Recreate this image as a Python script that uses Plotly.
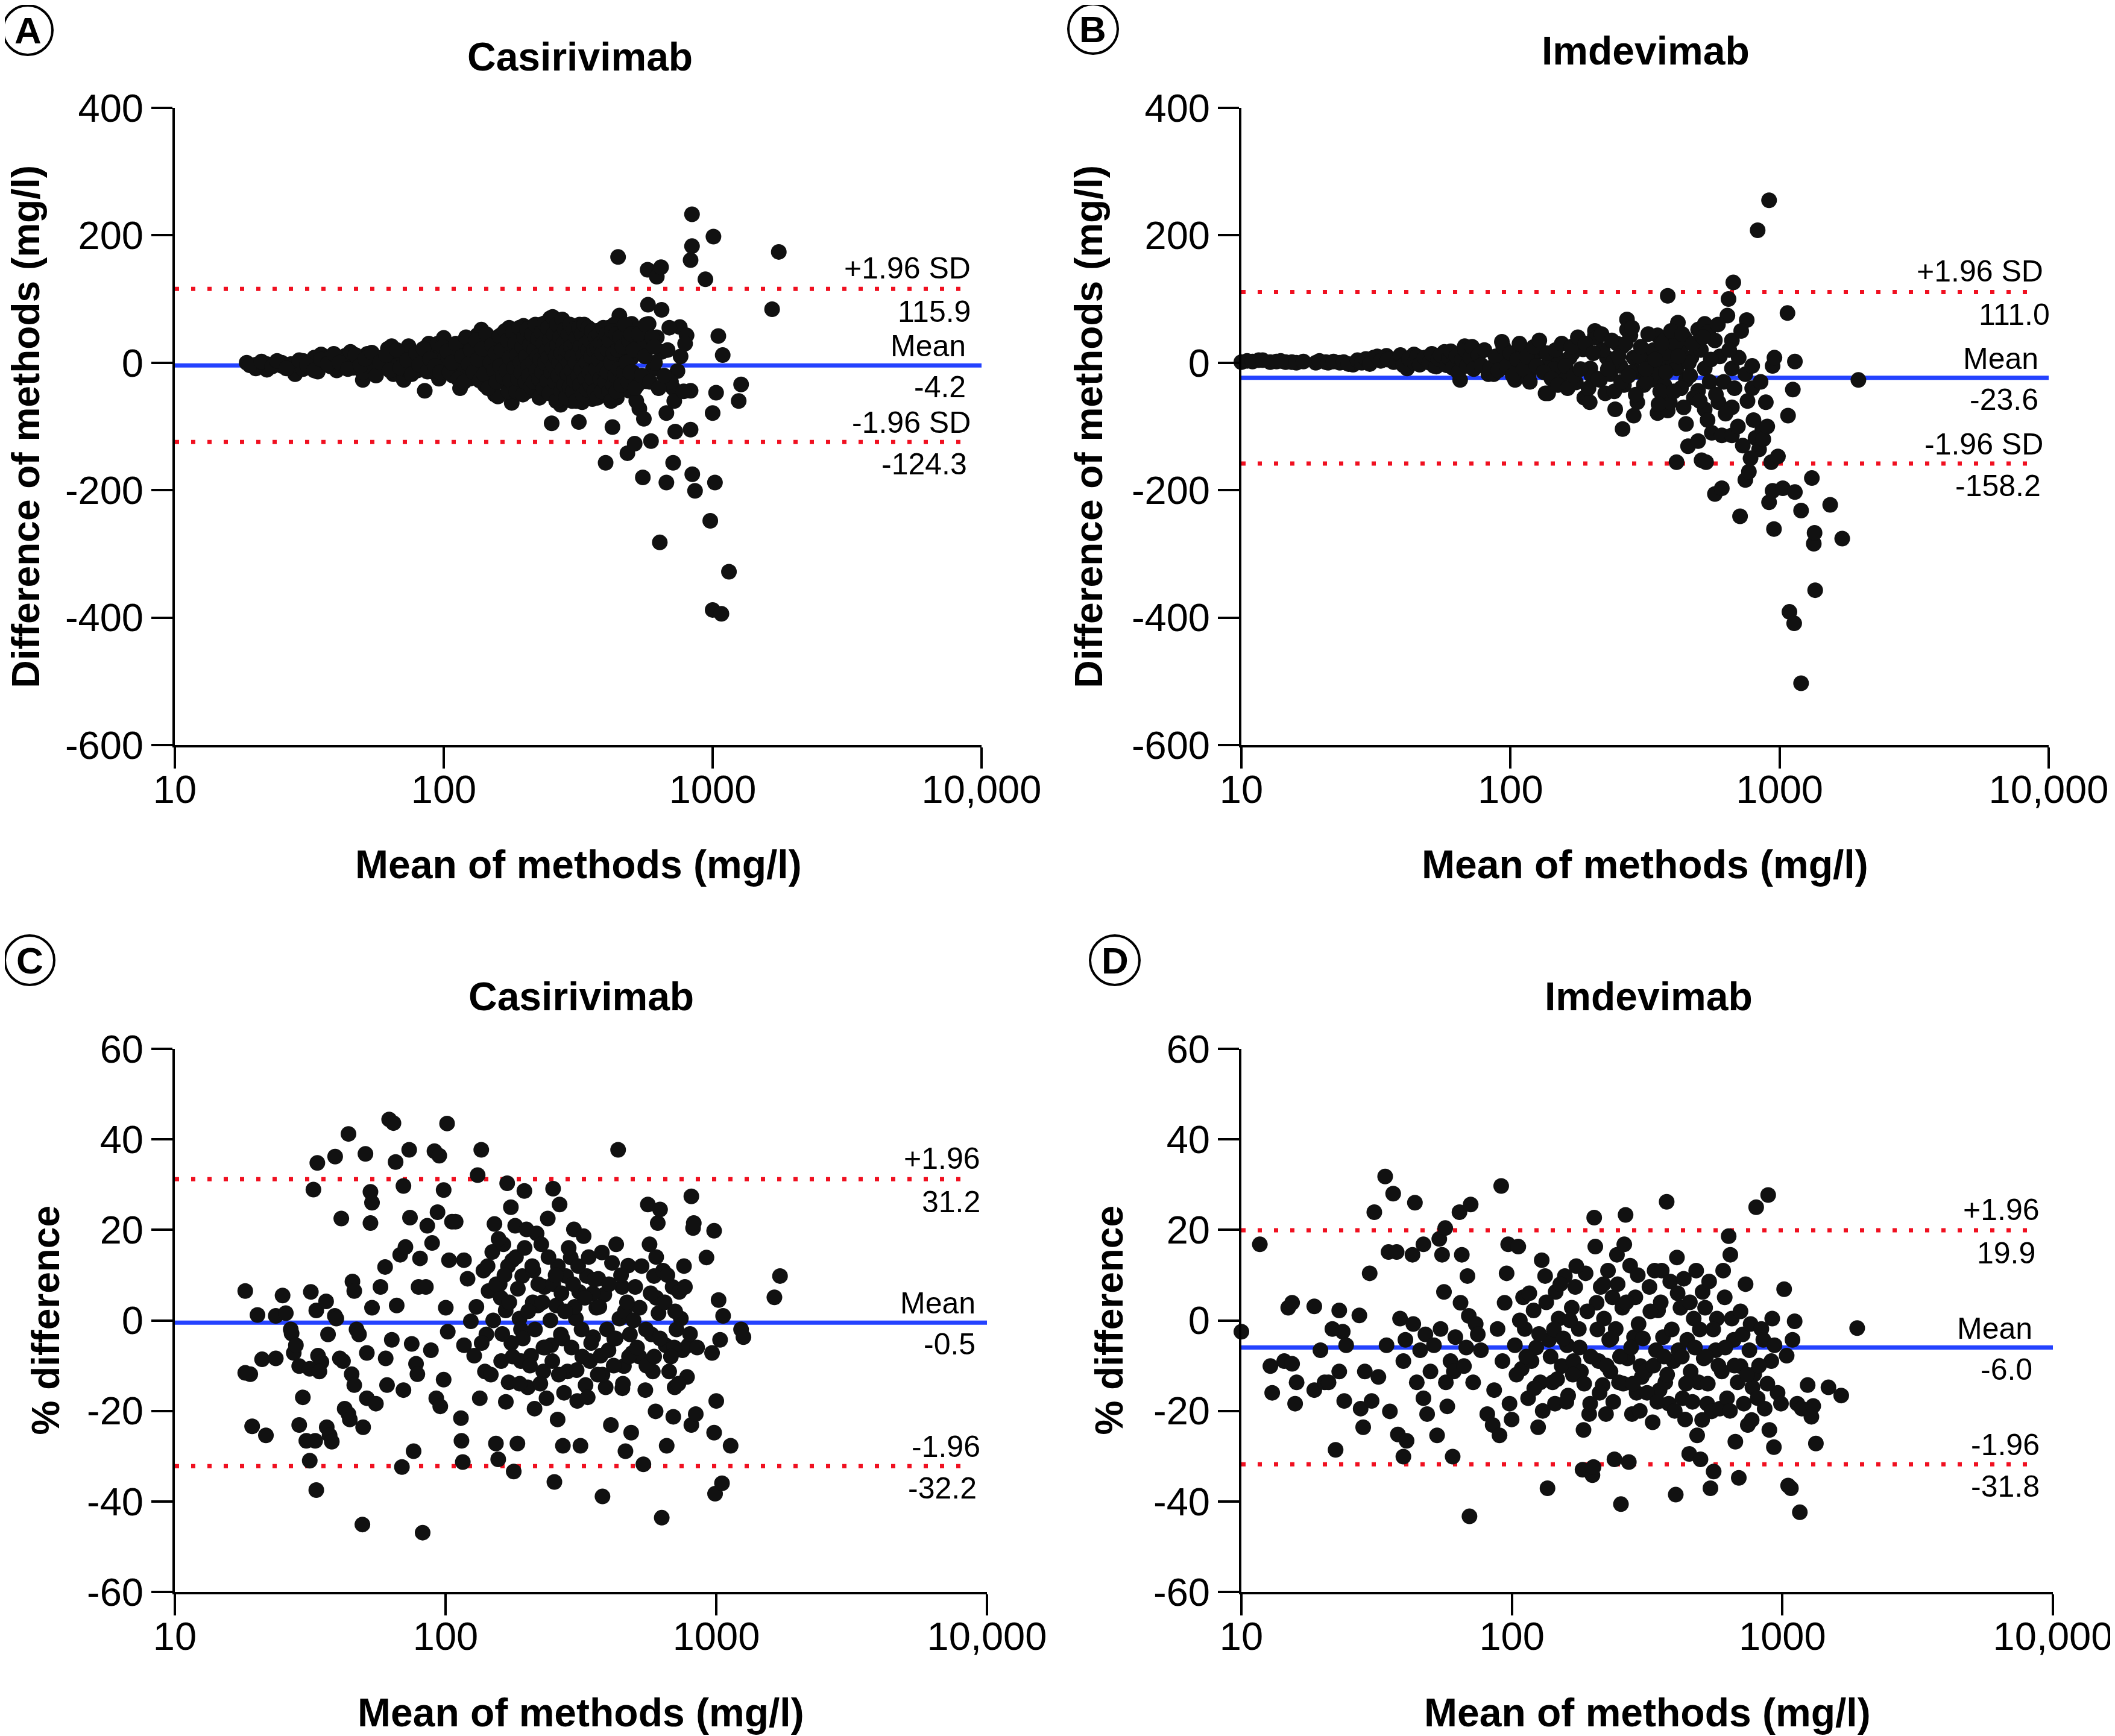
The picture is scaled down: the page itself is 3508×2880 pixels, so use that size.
import plotly.graph_objects as go

W, H = 3508, 2880          # reference canvas
OFF = 8                    # browser body margin offset
WF, HF = W - OFF, H - OFF  # figure size
FONT = "Liberation Sans, Arial, Helvetica, sans-serif"
RED = "#f01020"
BLUE = "#2442ff"
DOT = "#111111"

# ---------------- data ----------------
# Panel A: Casirivimab, difference (mg/l) vs mean (mg/l)
a_pairs = [
    (18.5, 0), (20, -3), (20, -9), (22, -11), (22, -2), (25, -5), (25, 0), (27, -2), (28, -18), (30, -10),
    (30, 3), (32, -8), (33, 8), (34, -14), (35, 13), (36, 2), (38, -6), (38, 10), (40, 5), (40, -12),
    (42, -3), (43, 11), (45, 17), (46, -8), (48, 4), (50, -27), (50, -15), (52, 14), (53, 0), (55, -10),
    (57, 8), (60, -6), (62, 22), (64, 26), (65, -18), (66, 6), (68, -2), (70, 12), (71, -27), (72, -10),
    (74, 26), (75, 18), (78, 3), (80, -12), (82, 8), (85, -44), (86, -5), (88, 30), (90, 20), (92, -15),
    (95, 30), (96, -25), (98, 10), (100, 39), (102, -8), (104, 5), (106, 22), (108, -20), (110, 15), (112, -3),
    (115, -40), (116, 28), (118, -12), (120, 8), (122, 30), (125, -25), (128, -5), (130, 18), (133, 43), (135, -10),
    (138, 52), (140, 0), (142, -35), (145, 25), (148, 10), (150, -20), (152, 38), (155, -50), (158, 5), (159, -53),
    (160, 30), (163, -15), (165, 45), (168, -30), (170, 15), (172, -5), (175, 55), (178, -40), (179, -63), (180, 25),
    (182, 0), (185, -20), (188, 40), (190, 10), (192, -35), (195, 50), (198, 58), (200, -10), (203, 20), (205, -45),
    (208, 35), (210, -25), (212, 5), (215, 45), (218, -15), (220, 30), (222, -5), (225, -44), (228, 15), (230, 60),
    (233, -30), (236, 25), (240, -10), (243, 40), (246, -20), (249, 70), (250, 5), (252, -95), (255, -35), (258, 50),
    (260, 15), (263, -50), (266, 35), (268, 65), (270, -10), (272, -66), (275, 20), (278, 45), (280, -25), (283, 0),
    (286, 55), (290, -40), (293, 30), (296, 10), (300, -60), (303, 40), (306, -20), (310, 20), (314, -45), (318, -93),
    (320, 60), (323, 5), (327, -62), (327, 58), (330, -30), (334, 35), (338, -10), (342, 45), (346, -50), (350, 15),
    (354, -25), (357, -57), (360, 30), (365, 0), (370, 50), (375, -35), (380, 20), (385, -15), (390, 40), (395, -40),
    (401, -44), (405, 10), (410, 55), (415, -25), (420, 25), (424, -101), (430, -10), (435, 35), (440, -55), (445, 166),
    (450, 74), (455, 5), (460, -30), (465, 45), (470, 15), (475, -20), (482, -142), (490, -44), (500, 61), (500, 8),
    (505, -15), (513, -127), (520, 30), (525, -35), (534, -72), (540, 20), (550, -180), (555, -88), (566, -29), (573, 146),
    (575, 91), (578, 61), (590, -123), (620, 135), (643, 150), (646, 83), (646, 17), (636, -282), (673, -79), (673, -188),
    (713, -157), (713, -40), (726, -108), (740, -13), (755, 56), (800, 43), (828, -105), (828, 161), (828, -44), (838, 233),
    (838, 183), (840, -175), (860, -201), (940, 131), (980, -248), (1000, -79), (1000, -388), (1007, 198), (1020, -188), (1030, -47),
    (1050, 42), (1078, -394), (1090, 12), (1150, -328), (1250, -60), (1276, -34), (1664, 84), (1762, 174), (400, -157),
    (550, 30), (600, -10), (620, 40), (680, 20), (700, -30), (760, 10), (520, -60), (480, 25), (430, 60), (610, 0),
    (19, -4), (21, 2), (23, -6), (24, 3), (26, -9), (29, 4), (31, -3), (33, -12), (35, 5), (37, -2),
    (39, 14), (41, 0), (44, -10), (47, 12), (49, -4), (51, 6), (54, 16), (56, -20), (58, 1), (61, 12),
    (63, -12), (67, 20), (69, -8), (73, 4), (76, -18), (79, 15), (81, -3), (84, 22), (87, -14), (89, 6),
    (93, -5), (97, -15), (99, 25), (103, 18), (105, -15), (107, 0), (111, 30), (113, -25), (117, 10), (119, -30),
    (121, 40), (124, -2), (126, 20), (129, -15), (132, 35), (134, 5), (136, -28), (139, 22), (141, -18), (144, 45),
    (146, -40), (149, 0), (151, 28), (154, -12), (156, 15), (157, -30), (161, 42), (162, -5), (164, 20), (166, -22),
    (169, 50), (171, -12), (173, 35), (174, -45), (176, 8), (177, -28), (181, 48), (183, -8), (184, 30), (186, -45),
    (187, 12), (189, -25), (191, 55), (193, 0), (194, -15), (196, 25), (197, -50), (199, 40), (201, -30), (202, 10),
    (204, 52), (206, -5), (207, -20), (209, 28), (211, -38), (213, 45), (214, 0), (216, -30), (217, 20), (219, 60),
    (221, -12), (223, 10), (224, 38), (226, -25), (227, -55), (229, 5), (231, 48), (232, -15), (234, 30), (235, -40),
    (237, 62), (238, 0), (241, 18), (242, -28), (244, 55), (245, 8), (247, -48), (248, 35), (251, -15), (253, 22),
    (254, 72), (256, -5), (257, 45), (259, -30), (261, 10), (262, -60), (264, 60), (265, 28), (267, -20), (269, 0),
    (271, 40), (273, -45), (274, 15), (276, 68), (277, -10), (279, 30), (281, -35), (282, 52), (284, 8), (285, -55),
    (287, 20), (289, -18), (291, 45), (292, 0), (294, -38), (295, 60), (297, 25), (299, -12), (301, 10), (302, -45),
    (304, 52), (305, -28), (307, 30), (309, 0), (311, -60), (312, 40), (315, 15), (316, -20), (319, 55), (321, -35),
    (322, 25), (325, -10), (326, 45), (329, -50), (331, 12), (333, 60), (336, -25), (337, 30), (340, 0), (341, -42),
    (344, 20), (345, 55), (348, -15), (349, 35), (352, -35), (353, 10), (356, 50), (358, -25), (362, 20), (363, -45),
    (367, 40), (368, -10), (372, 25), (373, -55), (377, 5), (378, 45), (382, -25), (383, 30), (387, -45), (388, 15),
    (392, 55), (393, -10), (397, 30), (398, -30), (403, 45), (407, -15), (408, 20), (412, -45), (413, 35), (418, 0),
    (419, -60), (422, 50), (426, -35), (428, 15), (433, -20), (437, 45), (438, -45), (443, 20), (447, -10), (452, 40),
    (457, -35), (462, 25), (467, -15), (472, 60), (478, 0), (485, -30), (488, 35), (495, -15), (498, 45), (508, 20),
    (515, -40), (530, 45), (545, -20), (560, 10), (565, 60), (585, -30), (595, 40), (605, 25), (630, -40), (660, -20),
    (690, 55), (720, -60), (780, -45), (790, 30),
]

# Panel B: Imdevimab, difference (mg/l) vs mean (mg/l)
b_pairs = [
    (10, 1), (11.6, 4), (12.8, 1), (14.6, 1), (15.4, 1), (18.9, 0), (20.6, 1), (23.2, 0), (26, -3), (31, 8),
    (34.6, 11), (36.8, 1), (41.3, -9), (43.8, 13), (47.7, 4), (52, -5), (56.8, 17), (62, 4), (65, -27), (67.6, 26),
    (70.5, 17), (74.5, 0), (82.8, -18), (86.6, -18), (92.9, 33), (95.6, 8), (98.4, -9), (104, -27), (110, 21), (117, -18),
    (131, 17), (135, -48), (138, -48), (139, 0), (152, 4), (157, -18), (166, 8), (175, -31), (186, 21), (188, -55),
    (197, -62), (198, -9), (206, 50), (206, 43), (209, 39), (215, -27), (225, -48), (228, 8), (235, -18), (245, -73),
    (249, 30), (256, -5), (261, -104), (264, -35), (271, 68), (271, 52), (279, 43), (287, 8), (287, -83), (296, -14),
    (296, -62), (313, 17), (313, -35), (332, 0), (332, -27), (352, -18), (352, 43), (352, -79), (361, 26), (373, -5),
    (373, 35), (373, -35), (384, 105), (384, -75), (391, -62), (400, 4), (414, -9), (414, -156), (419, 63), (428, 21),
    (444, 39), (449, -27), (449, -96), (457, -131), (470, 8), (498, 52), (498, -44), (498, -123), (513, -153), (527, 61),
    (527, -9), (527, -73), (533, -156), (543, 48), (560, -110), (575, 35), (575, -206), (593, -62), (610, -114), (610, -197),
    (640, 74), (646, 100), (665, 35), (665, -9), (665, -70), (665, -114), (673, 126), (705, 8), (713, -241), (746, -18),
    (746, -184), (755, 67), (769, -171), (791, -40), (791, -5), (814, -118), (829, 208), (839, -136), (863, -105), (889, -62),
    (914, 255), (914, -219), (931, -156), (942, -5), (942, -201), (953, -261), (957, 8), (986, -147), (1028, -197), (1070, 78),
    (1075, -83), (1088, -391), (1120, -42), (1133, -409), (1140, 2), (1140, -203), (1202, -232), (1202, -503), (1318, -181), (1340, -284),
    (1349, -267), (1356, -357), (1542, -223), (1709, -276), (1963, -27),
    (120, 5), (145, -10), (170, 15), (200, -20), (220, 20), (240, 0), (260, 25), (280, -15), (300, 10), (320, -30),
    (340, 20), (360, -45), (380, 15), (410, 30), (430, -40), (460, 0), (480, -55), (510, 20), (550, -30), (600, 10),
    (10.5, 3), (11, 2), (12, 4), (13.5, 2), (14, 3), (16, 0), (17, 2), (19.5, 3), (21, 0), (22, 2),
    (24, 1), (25, -2), (27, 4), (28, 0), (29, 6), (30, -2), (32, 10), (33, 3), (35, 5), (38, 2),
    (39, 12), (40, -4), (42, 6), (44, 0), (45, 10), (46, -3), (48, 8), (50, 0), (51, 14), (53, -6),
    (54, 6), (55, 12), (58, -4), (59, 8), (60, 18), (61, -8), (63, 10), (64, -15), (66, 5), (68, 20),
    (69, -5), (71, 8), (72, 25), (73, -10), (76, 12), (78, -4), (80, 20), (84, -8), (88, 10), (90, -12),
    (94, 25), (97, -5), (100, 15), (102, -20), (106, 5), (108, 30), (112, -10), (115, 10), (118, -30), (122, 25),
    (125, -5), (128, 35), (133, -15), (137, 15), (142, -25), (147, 20), (150, -35), (155, 30), (160, -5), (163, -40),
    (168, 25), (172, -20), (178, 40), (182, -10), (190, 30), (195, -40), (203, 15), (212, -25), (218, 45), (230, -10),
    (238, 35), (243, -45), (252, 10), (258, -30), (268, 30), (275, -20), (283, 55), (292, -50), (305, 25), (318, -10),
    (325, 45), (345, 5), (355, -65), (365, 30), (378, -15), (395, 50), (405, -45), (420, 10), (435, 45), (440, -70),
    (465, -20), (475, 30), (505, -60), (520, 40), (540, -90), (555, 5), (580, -50), (590, 60), (620, -30), (630, -80),
    (650, 20), (680, -40), (700, -100), (720, 50), (730, -130), (760, -60), (780, -150), (800, -90), (850, -30), (870, -120),
    (900, -100),
]

# Panel C: Casirivimab, % difference vs mean (mg/l)
c_pairs = [
    (18.2, 6.5), (19, -11.9), (18.2, -11.6), (20.2, 1.2), (19.3, -23.4), (21, -8.6), (21.7, -25.4), (23.6, 1.0), (25, 5.5), (25.7, 1.6),
    (26.8, -2), (27, -2.9), (23.6, -8.4), (27.5, -7.2), (28.8, -10.1), (28.8, -23.1), (29.7, -17), (31.5, -31), (31.8, 6.3), (32.5, 28.9),
    (33.3, 2.2), (33.6, 34.8), (33.3, -37.5), (33.8, -7.8), (34.8, -9.2), (31.5, -10.7), (34.2, -11.3), (36.2, 4.2), (36.4, -23.6), (36.8, -3.1),
    (37.3, -25.4), (38, -26.8), (33, -26.6), (30.6, -26.6), (28, -5.5), (39.1, 36.2), (39, 1), (39.5, 0.4), (41.2, 22.5), (40.7, -8.4),
    (41.8, -9), (42.4, -19.5), (43.8, 41.2), (43.8, -20.7), (44.3, -21.9), (45.3, 8.6), (46, 6.5), (45, -11.9), (46, -14.3), (46.9, -2),
    (47.9, -3.1), (49.6, -23.6), (49.3, -45.1), (50.6, 36.8), (51.2, -7.2), (51.2, -17.2), (52.8, 28.4), (52.8, 21.5), (53.5, 26), (53.5, 2.8),
    (55.3, -18.4), (57.5, 7.4), (59.8, 11.8), (60.1, -8.4), (60.8, -14.3), (61.9, 44.4), (63.3, -4.3), (64.2, 43.6), (65.4, 35), (66, 3.3),
    (68, 14.5), (69, -32.4), (69.9, 29.7), (69.9, -15.4), (71.1, 16.2), (73.4, 37.7), (73.9, 22.7), (75, -5.2), (76.2, -28.9), (77.8, -9.6),
    (78.7, -11.9), (79.5, 7.4), (80.5, 13.7), (82.3, -46.9), (84.6, 7.4), (85.6, 20.9), (88.3, -6.6), (89.2, 17.1), (91, 37.4), (92.4, -17.2),
    (93.4, 23.9), (94.8, 36.4), (95.6, -19), (98.4, 28.8), (98.4, -13.1), (100.2, 2.8), (101.3, 43.5), (101.9, -2.5), (103, 13.3), (105.6, 21.8),
    (109, 21.8), (114, -21.6), (114.5, -26.6), (115.8, -31.3), (117, 13.3), (117, -5.5), (120.6, 9.2), (124, -0.2), (127.6, -7.8), (131.4, 32.1),
    (133.8, -17.2), (135.5, 37.7), (138, 11), (139.8, -11.3), (141.5, -3.1), (144.2, 6.5), (148.8, 15.1), (151.6, 21.3), (153.5, -27.2), (156.5, -30.7),
    (158.5, 8), (160.5, -9), (163.6, 16.8), (166.8, 2.2), (168.9, 30.3), (171, -13.7), (174.3, 25), (176.5, 13.3), (178.6, -33.4), (180.8, 20.9),
    (184.3, -27.2), (187.6, 0.4), (189.8, -9), (192, 9.8), (195.5, 28.6), (199, 20.1), (201.3, -14.8), (207, -7.8), (211, 11), (213.2, -19.5),
    (217, 19.2), (219.4, 3.3), (225.8, 16.8), (229.6, -11.3), (232, 7.4), (236, -17.2), (238.6, 22.5), (245.5, -5.5), (249.6, 29.1), (252.4, -35.7),
    (256.5, 3.3), (259.4, -21.9), (263.8, 25.6), (266.7, -3.1), (271.3, -27.7), (278.8, 9.8), (282, -11.3), (290, 13.9), (298, 20.1), (303, 0.4),
    (306.5, -17.8), (311.6, 6.3), (315, -27.7), (323.7, 18.6), (329, -14.3), (332.6, 9.8), (341.6, -9), (351, -3.7), (360.7, 2.8), (366.5, 9.2),
    (374, -7.8), (380, -38.9), (386, 5.7), (390.5, -14.8), (400, -6.6), (408, -23.1), (412, 12.7), (427, 16.8), (434, 37.7), (439, 0.4),
    (449, 7.4), (456, -10.1), (462, -28.9), (473, 12.1), (480, -3.1), (485, -24.8), (490, -7.2), (502, 7.4), (521, 2.8), (538, -31.8),
    (547, -15.4), (559, 25.6), (567, 16.8), (576, -3.1), (583, -11.3), (589, 9.8), (597, -20.1), (608, 21.5), (612, 1.6), (620, 24.5),
    (629, -43.6), (636, 11), (650, -5.5), (656, -27.7), (670, -11.3), (690, 7.4), (694, -21.3), (702, -14.8), (713, -2), (730, 6.3),
    (740, 0.4), (750, -6.6), (766, 7.4), (780, -12.5), (790, -5.5), (809, 27.4), (809, -23.1), (821, 20.4), (826, 21.5), (840, -20.7),
    (920, 13.9), (965, -7.2), (982, 19.8), (982, -24.8), (990, -38.3), (1000, -17.8), (1020, 4.5), (1033, -4.3), (1050, -36), (1060, 1),
    (1130, -27.7), (1235, -2), (1260, -3.7), (1640, 5.1), (1720, 9.8),
    (160, 5), (175, -5), (190, -2), (210, 4), (230, -6), (250, 8), (270, -4), (300, 3), (320, -8), (350, 6),
    (420, -4), (460, 2), (520, -8), (600, 5), (700, -6), (170, 12), (260, 12), (380, -12), (450, -15), (550, -2),
    (130, 3), (136, -5), (143, 12), (147, -12), (150, 0), (154, 8), (157, 18), (162, -3), (165, 10), (167, -18),
    (172, 4), (177, -8), (182, 14), (185, 7), (188, -14), (193, -4), (196, 16), (202, 2), (205, -10), (209, 12),
    (214, -2), (220, 8), (224, -14), (228, 4), (233, -6), (240, 14), (244, 0), (248, -9), (255, 10), (262, -12),
    (268, 6), (274, -16), (276, 2), (285, 16), (292, -6), (296, 8), (305, -11), (309, 12), (318, -2), (327, 5),
    (335, -17), (338, 14), (345, -5), (355, 9), (365, -12), (370, 3), (378, 15), (395, -2), (402, 8), (418, -10),
    (425, -4), (445, 10), (452, -14), (468, 4), (476, -8), (495, 0), (510, -6), (530, 12), (552, -10), (572, 6),
    (590, -8), (600, 14), (620, -4), (645, 4), (660, 10), (680, -8), (705, 2), (725, -14), (760, 12), (800, -3),
    (850, -6),
]

# Panel D: Imdevimab, % difference vs mean (mg/l)
d_pairs = [
    (10, -2.5), (11.7, 16.8), (12.8, -10.1), (13, -16), (14.9, 2.8), (15.4, 3.9), (14.4, -9), (15.4, -9.6), (16, -13.7), (15.8, -18.4),
    (18.6, 3.1), (18.6, -15.4), (19.6, -6.6), (20.3, -13.7), (21, -13.7), (21.7, -1.9), (22.3, -28.6), (23, 2.2), (23, -11.3), (23.7, -2.5),
    (24, -17.8), (24.4, -5.5), (27.3, 1.1), (27.6, -19.5), (28.2, -23.6), (28.6, -11.3), (29.8, 10.4), (30.3, -17.8), (31, 23.9), (32.1, -12.5),
    (34, 31.8), (34.4, -5.5), (35, 15.1), (35.4, -20.1), (36.4, 28), (37.5, 15.1), (37.9, -25.2), (38.6, 0.4), (39.7, -9), (39.7, -30.1),
    (40.4, -4.3), (40.8, -26.6), (42.9, 14.5), (43.2, -0.8), (43.8, 26), (44.5, -13.7), (45.8, -6.6), (47.1, 16.8), (47.1, -17.2), (47.9, -3.1),
    (48.6, -20.7), (50, -11.3), (51.5, -5.5), (52.9, -25.4), (53.9, 18), (54.5, -1.9), (55.2, 14.5), (56.1, 6.3), (56.7, 20.4), (57, -13.7),
    (57.7, -19), (59.3, -9), (60.4, -30.1), (61, -11.3), (61.8, -3.7), (64, 23.9), (64.6, 3.9), (65.3, 14.5), (66.5, -10.1), (67.8, -6),
    (68.5, 9.8), (69.3, 1), (70.4, 25.6), (69.7, -43.3), (71.9, -13.7), (73.5, -0.8), (74.8, -3.1), (76.8, -6.6), (81.1, -20.7), (84.9, -23.1),
    (86, -15.4), (88.5, -1.9), (90, -25.4), (91.3, 29.7), (92.3, -9), (94, 3.9), (95.6, 10.4), (96.9, 16.8), (98, -18.4), (99.8, -21.9),
    (102.6, -5.5), (105.6, 16.3), (108.7, -10.7), (110, 5.1), (111.6, -1.9), (114.8, -17.2), (118.2, -9), (120.3, 2.2), (123, -6), (125, -23.6),
    (127.4, -13.7), (128.9, 13.3), (132.7, 9.8), (135.4, -37.1), (137.1, -4.3), (141.4, -13.7), (144.3, -18.4), (145.2, 6.3), (148.9, 0.4), (152.8, -10.1),
    (157, 9.8), (160, -5.5), (161.4, -16.6), (166.5, 2.8), (169, -9), (171.5, 7.4), (176.8, -1.9), (180, -11.3), (182.5, -33), (184, -24.2),
    (187.3, 10.4), (193.1, -20.7), (194.7, -18.4), (198.5, -34.2), (200.3, -32.4), (201.5, 22.7), (203.4, 16.3), (205.7, 3.9), (209.4, -9), (213, 7.4),
    (216.5, -14.3), (219, 0.4), (222.8, -20.7), (226.6, 11), (229, -4.3), (231.5, -11.3), (235.5, 5.1), (239.4, -30.7), (242, -1.9), (244.6, 14.5),
    (248.8, -13.7), (253, -40.6), (256, 2.8), (260.3, 16.8), (263.2, 23.3), (267.6, -8.4), (270.6, -31.3), (273.6, 12.1), (278, -20.7), (282.8, -3.7),
    (286, 5.1), (289, -16), (294, -0.8), (299, -10.1), (302, -12.5), (311, -11.3), (322.5, 7.4), (331.4, -22.5), (337, 11), (341, -6.6),
    (347, 2.2), (351.5, -15.4), (358, 11), (362, -3.7), (369, -13.7), (373.4, 26.2), (380, -18.4), (385, 8.6), (396, -9), (403.4, -38.5),
    (407.5, 13.9), (413, -6.6), (420, 2.8), (427.5, -17.2), (432, 9.2), (437, -21.9), (445, -4.3), (452.5, -29.5), (458, -11.3), (470, 0.4),
    (480, 11), (484, -25.4), (490, -13.7), (498, -30.7), (507, 6.3), (512, -8.4), (518, 2.8), (527, -18.4), (536, 8.6), (542, -37.1),
    (548, -20.1), (557, -33.4), (567, -6.6), (573, 0.4), (587, -19.5), (597, -11.3), (604, 11), (612, 5.1), (624, -17.2), (633, 18.6),
    (642, 14.5), (650, 0.4), (661, -4.3), (670, -26.8), (683, -13.7), (690, -34.8), (700, -10.1), (713, -3.1), (720, -18.4), (731, 8),
    (745, -23.1), (755, -6.6), (763, -0.8), (775, -14.8), (787, -11.9), (800, 25), (810, -17.2), (836, -1.9), (850, -4.3), (860, -19.5),
    (886, 27.7), (895, -24.2), (910, -9), (917, 0.4), (930, -28), (935, -5.5), (960, -16), (988, -18.4), (1015, 6.9), (1037, -7.8),
    (1050, -36.5), (1075, -37.1), (1090, -4.3), (1110, -0.2), (1135, -18.4), (1160, -42.4), (1180, -19.5), (1240, -14.3), (1280, -21.3), (1300, -18.9),
    (1330, -27.2), (1480, -14.8), (1650, -16.6), (1890, -1.7),
    (104, -12), (107, 0), (113, -8), (116, 6), (121, -15), (126, -3), (130, -20), (134, 4), (139, -8), (143, -2),
    (147, -13), (151, 8), (155, -4), (159, -18), (164, 0), (168, -12), (173, 12), (178, -6), (185, -14), (190, 2),
    (196, -8), (207, -2), (211, -16), (218, 8), (224, -10), (233, -4), (237, -18), (246, 8), (251, -8), (258, -14),
    (265, 4), (276, -6), (280, -14), (292, 10), (297, -20), (305, -4), (316, -16), (325, 2), (334, -10), (345, -18),
    (355, 4), (365, -8), (375, -12), (390, -2), (400, -20), (410, 6), (425, -8), (440, -14), (455, 4), (465, -18),
    (475, -6), (495, -2), (505, -22), (522, -8), (530, -14), (555, -2), (580, -10), (615, -6), (640, -20), (665, -10),
    (700, 2), (740, -12), (770, -22), (820, -10), (880, -14),
]

# Limits of agreement: (+1.96 SD, mean, -1.96 SD)
a_limits = [115.9, -4.2, -124.3]
b_limits = [111.0, -23.6, -158.2]
c_limits = [31.2, -0.5, -32.2]
d_limits = [19.9, -6.0, -31.8]

a_labels = ["+1.96 SD", "115.9", "Mean", "-4.2", "-1.96 SD", "-124.3"]
b_labels = ["+1.96 SD", "111.0", "Mean", "-23.6", "-1.96 SD", "-158.2"]
c_labels = ["+1.96", "31.2", "Mean", "-0.5", "-1.96", "-32.2"]
d_labels = ["+1.96", "19.9", "Mean", "-6.0", "-1.96", "-31.8"]

x_ticks = [10, 100, 1000, 10000]
x_ticktext = ["10", "100", "1000", "10,000"]
y_ticks_abs = [-600, -400, -200, 0, 200, 400]
y_ticks_pct = [-60, -40, -20, 0, 20, 40, 60]

titles = ["Casirivimab", "Imdevimab", "Casirivimab", "Imdevimab"]
panel_letters = ["A", "B", "C", "D"]
y_titles = ["Difference of methods (mg/l)", "Difference of methods (mg/l)", "% difference", "% difference"]
x_title = "Mean of methods (mg/l)"

# ---------------- layout geometry (pixels on the reference canvas) ----------------
panels = [
    dict(pairs=a_pairs, lim=a_limits, lab=a_labels, xd=(290, 1628), yd=(179, 1236), yr=[-600, 400], yt=y_ticks_abs,
         title_xy=(962, 94), circ=(46, 50), ytitle_x=43, xtitle_y=1434, inside=[16, 16, 24, 24, 16, 22], dotend=8750),
    dict(pairs=b_pairs, lim=b_limits, lab=b_labels, xd=(2059, 3398), yd=(179, 1236), yr=[-600, 400], yt=y_ticks_abs,
         title_xy=(2729, 84), circ=(1813, 48), ytitle_x=1806, xtitle_y=1434, inside=[7, -4, 15, 15, 7, 11], dotend=8750),
    dict(pairs=c_pairs, lim=c_limits, lab=c_labels, xd=(290, 1637), yd=(1740, 2641), yr=[-60, 60], yt=y_ticks_pct,
         title_xy=(964, 1653), circ=(49, 1593), ytitle_x=75, xtitle_y=2841, inside=[9, 9, 17, 17, 9, 15], dotend=8750),
    dict(pairs=d_pairs, lim=d_limits, lab=d_labels, xd=(2059, 3405), yd=(1740, 2641), yr=[-60, 60], yt=y_ticks_pct,
         title_xy=(2734, 1653), circ=(1849, 1593), ytitle_x=1839, xtitle_y=2841, inside=[20, 27, 32, 32, 20, 20], dotend=8750),
]


def px(x):
    return (x - OFF) / WF


def py(y):
    return 1 - (y - OFF) / HF


fig = go.Figure()
annotations = []
shapes = []

for i, p in enumerate(panels):
    n = "" if i == 0 else str(i + 1)
    xref, yref = "x" + n, "y" + n
    xs = [q[0] for q in p["pairs"]]
    ys = [q[1] for q in p["pairs"]]
    up, mean, lo = p["lim"]
    # reference lines
    for val in (up, lo):
        fig.add_trace(go.Scatter(x=[10, p["dotend"]], y=[val, val], mode="lines", xaxis=xref, yaxis=yref,
                                 line=dict(color=RED, width=7, dash="7px,20px"), showlegend=False, hoverinfo="skip"))
    fig.add_trace(go.Scatter(x=[10, 10000], y=[mean, mean], mode="lines", xaxis=xref, yaxis=yref,
                             line=dict(color=BLUE, width=7), showlegend=False, hoverinfo="skip"))
    fig.add_trace(go.Scatter(x=xs, y=ys, mode="markers", xaxis=xref, yaxis=yref, cliponaxis=False,
                             marker=dict(size=26, color=DOT, line=dict(width=0)), showlegend=False))

    common = dict(showline=True, linecolor="black", linewidth=4, ticks="outside", ticklen=35, tickwidth=4,
                  tickcolor="black", showgrid=False, zeroline=False, automargin=False,
                  tickfont=dict(family=FONT, size=65, color="black"))
    fig.update_layout(**{
        "xaxis" + n: dict(common, type="log", range=[1, 4], tickvals=x_ticks, ticktext=x_ticktext,
                          domain=[px(p["xd"][0]), px(p["xd"][1])], anchor=yref, ticklabelstandoff=-21),
        "yaxis" + n: dict(common, range=p["yr"], tickvals=p["yt"], ticktext=[str(v) for v in p["yt"]],
                          domain=[py(p["yd"][1]), py(p["yd"][0])], anchor=xref, ticklabelstandoff=0),
    })

    # limit labels
    vals = [up, up, mean, mean, lo, lo]
    shifts = [34, -38, 32, -36, 32, -37]
    for k in range(6):
        annotations.append(dict(xref=xref + " domain", yref=yref, x=1, y=vals[k], text=p["lab"][k],
                                xanchor="right", yanchor="middle", xshift=-p["inside"][k], yshift=shifts[k],
                                showarrow=False, font=dict(family=FONT, size=50, color="black")))
    # panel title
    annotations.append(dict(xref="paper", yref="paper", x=px(p["title_xy"][0]), y=py(p["title_xy"][1]),
                            text="<b>" + titles[i] + "</b>", showarrow=False, xanchor="center", yanchor="middle",
                            font=dict(family=FONT, size=66, color="black")))
    # axis titles
    annotations.append(dict(xref="paper", yref="paper", x=px(p["ytitle_x"]), y=py((p["yd"][0] + p["yd"][1]) / 2),
                            text="<b>" + y_titles[i] + "</b>", textangle=-90, showarrow=False,
                            xanchor="center", yanchor="middle", font=dict(family=FONT, size=64, color="black")))
    annotations.append(dict(xref="paper", yref="paper", x=px((p["xd"][0] + p["xd"][1]) / 2), y=py(p["xtitle_y"]),
                            text="<b>" + x_title + "</b>", showarrow=False,
                            xanchor="center", yanchor="middle", font=dict(family=FONT, size=66, color="black")))
    # circled panel letter
    cx, cy = p["circ"]
    r = 41
    shapes.append(dict(type="circle", xref="paper", yref="paper", x0=px(cx - r), x1=px(cx + r),
                       y0=py(cy + r), y1=py(cy - r), line=dict(color="black", width=4)))
    annotations.append(dict(xref="paper", yref="paper", x=px(cx), y=py(cy), text="<b>" + panel_letters[i] + "</b>",
                            showarrow=False, xanchor="center", yanchor="middle",
                            font=dict(family=FONT, size=62, color="black")))

fig.update_layout(width=WF, height=HF, margin=dict(l=0, r=0, t=0, b=0, autoexpand=False), paper_bgcolor="white",
                  plot_bgcolor="white", annotations=annotations, shapes=shapes, showlegend=False)

fig.write_html("out.html")
